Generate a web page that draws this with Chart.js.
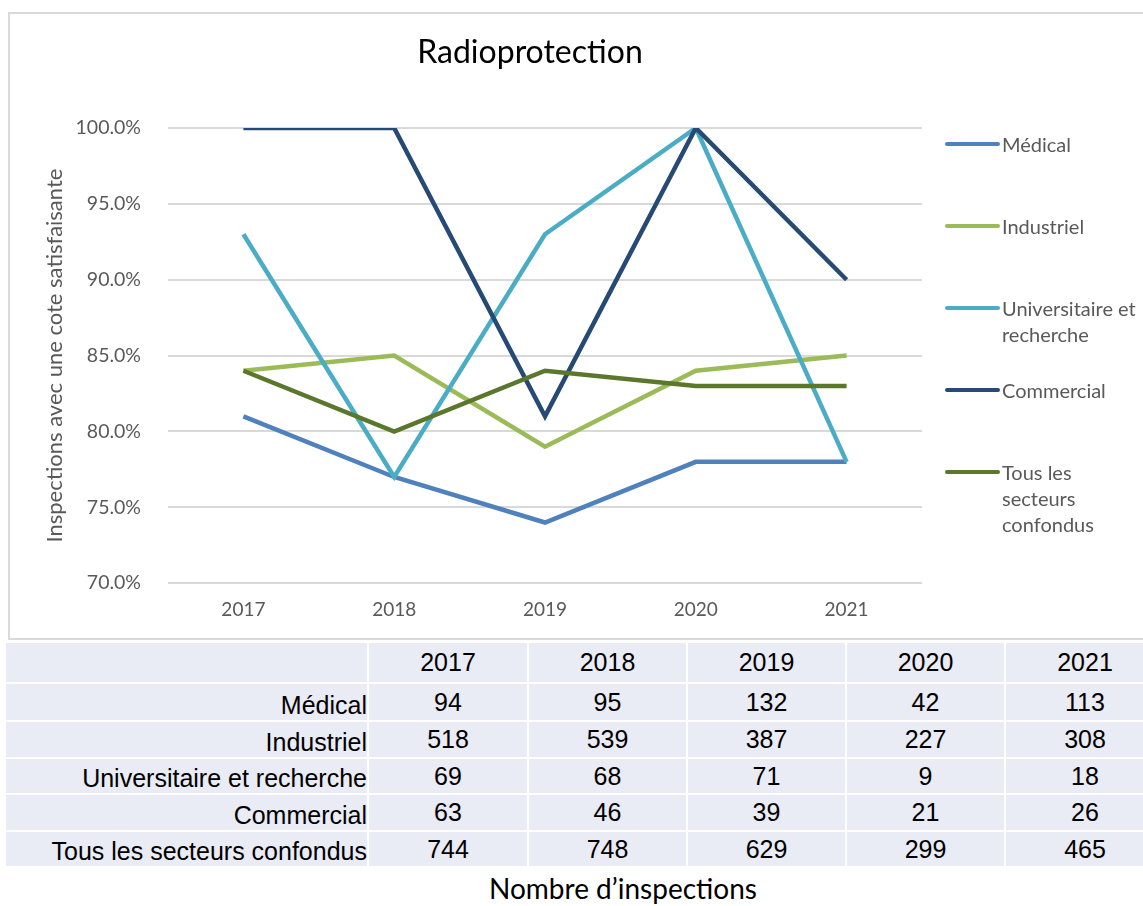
<!DOCTYPE html>
<html>
<head>
<meta charset="utf-8">
<script src="https://cdn.jsdelivr.net/npm/chart.js"></script>
<style>
    body { margin: 0; width: 1143px; height: 906px; position: relative; overflow: hidden; background: #fff; font-family: Lato, "Open Sans", sans-serif; }
    #box { position: absolute; left: 8px; top: 12px; width: 1140px; height: 624px; border: 2px solid #d9d9d9; border-right: none; }
    #chart { position: absolute; left: 0; top: 0; }
    #title { position: absolute; left: 330px; width: 400px; top: 31px; text-align: center; font-size: 32px; color: #000; }
    #legend { position: absolute; left: 945px; top: 0; font-size: 20px; color: #595959; line-height: 26px; }
    .item { position: absolute; left: 0; white-space: nowrap; }
    .swatch { position: absolute; left: 0; width: 55px; height: 4px; border-radius: 2px; top: 11px; }
    .txt { position: absolute; left: 57px; top: 0; }
    #counts { position: absolute; left: 4px; top: 641px; width: 1160px; border-collapse: collapse; table-layout: fixed;
        font-family: "Liberation Sans", Arial, sans-serif; font-size: 25px; color: #000; }
    #counts td { background: #e9ebf5; border: 2px solid #fff; padding: 0; text-align: center; vertical-align: middle; }
    #counts td.lab { text-align: right; vertical-align: bottom; padding-right: 0; }
    #caption { position: absolute; left: 423px; width: 400px; top: 871px; text-align: center; font-size: 28px; color: #000; }
</style>
</head>
<body>
<div id="box"><canvas id="chart" width="1133" height="622"></canvas></div>
<div id="title">Radioprotection</div>
<div id="legend"></div>
<table id="counts"></table>
<div id="caption">Nombre d’inspections</div>
<script>
    const years = ['2017', '2018', '2019', '2020', '2021'];
    const seriesNames = ['Médical', 'Industriel', 'Universitaire et recherche', 'Commercial', 'Tous les secteurs confondus'];
    const legendLines = [['Médical'], ['Industriel'], ['Universitaire et', 'recherche'], ['Commercial'], ['Tous les', 'secteurs', 'confondus']];
    const colors = ['#4f81bd', '#9bbb59', '#4bacc6', '#264a73', '#5b772b'];

    // % of inspections with a satisfactory rating
    const medical = [81, 77, 74, 78, 78];
    const industriel = [84, 85, 79, 84, 85];
    const universitaire = [93, 77, 93, 100, 78];
    const commercial = [100, 100, 81, 100, 90];
    const tous = [84, 80, 84, 83, 83];
    const pctSeries = [medical, industriel, universitaire, commercial, tous];

    // number of inspections (table under the chart)
    const nbMedical = [94, 95, 132, 42, 113];
    const nbIndustriel = [518, 539, 387, 227, 308];
    const nbUniversitaire = [69, 68, 71, 9, 18];
    const nbCommercial = [63, 46, 39, 21, 26];
    const nbTous = [744, 748, 629, 299, 465];
    const countSeries = [nbMedical, nbIndustriel, nbUniversitaire, nbCommercial, nbTous];

    const yMin = 70, yMax = 100, yStep = 5;

    const datasets = pctSeries.map(function (vals, i) {
        return {
            label: seriesNames[i],
            data: vals,
            borderColor: colors[i],
            backgroundColor: colors[i],
            borderWidth: 4.5,
            pointRadius: 0,
            tension: 0,
            order: pctSeries.length - i
        };
    });

    new Chart(document.getElementById('chart'), {
        type: 'line',
        data: { labels: years, datasets: datasets },
        options: {
            responsive: false,
            animation: false,
            layout: { padding: { top: 114, right: 221, left: 0, bottom: 0 } },
            plugins: { legend: { display: false }, tooltip: { enabled: false } },
            scales: {
                x: {
                    offset: true,
                    grid: { display: false, drawTicks: false },
                    border: { display: false },
                    ticks: { color: '#595959', font: { family: 'Lato', size: 19 }, padding: 15 }
                },
                y: {
                    min: yMin, max: yMax,
                    afterFit: function (s) { s.width = 158; },
                    grid: { color: '#d9d9d9', lineWidth: 2, drawTicks: false },
                    border: { display: false },
                    ticks: {
                        stepSize: yStep, padding: 27, color: '#595959',
                        font: { family: 'Lato', size: 19.5 },
                        callback: function (v) { return v.toFixed(1) + '%'; }
                    },
                    title: {
                        display: true, text: 'Inspections avec une cote satisfaisante',
                        color: '#595959', font: { family: 'Lato', size: 22 },
                        padding: { top: 32, bottom: 0 }
                    }
                }
            }
        }
    });

    // legend
    const legendTops = [131, 213, 295, 377, 459];
    const legend = document.getElementById('legend');
    legendLines.forEach(function (lines, i) {
        const item = document.createElement('div');
        item.className = 'item';
        item.style.top = legendTops[i] + 'px';
        const sw = document.createElement('div');
        sw.className = 'swatch';
        sw.style.background = colors[i];
        const t = document.createElement('div');
        t.className = 'txt';
        t.innerHTML = lines.join('<br>');
        item.appendChild(sw);
        item.appendChild(t);
        legend.appendChild(item);
    });

    // count table
    const table = document.getElementById('counts');
    const colWidths = [363, 160, 159, 159, 159, 160];
    const cg = document.createElement('colgroup');
    colWidths.forEach(function (w) {
        const c = document.createElement('col');
        c.style.width = w + 'px';
        cg.appendChild(c);
    });
    table.appendChild(cg);
    const head = table.insertRow(-1);
    head.style.height = '41px';
    head.insertCell(-1).className = 'lab';
    years.forEach(function (y) { head.insertCell(-1).textContent = y; });
    const rowHeights = [38, 37, 36, 37, 36];
    countSeries.forEach(function (vals, i) {
        const r = table.insertRow(-1);
        r.style.height = rowHeights[i] + 'px';
        const l = r.insertCell(-1);
        l.className = 'lab';
        l.textContent = seriesNames[i];
        vals.forEach(function (v) { r.insertCell(-1).textContent = v; });
    });
</script>
</body>
</html>
